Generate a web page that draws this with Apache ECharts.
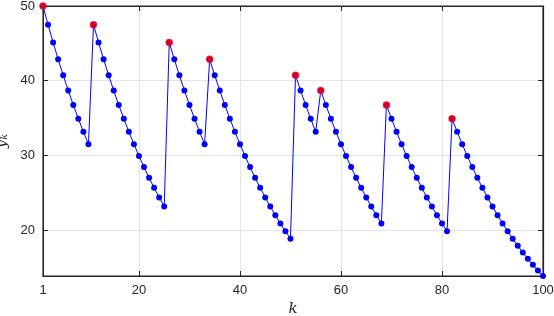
<!DOCTYPE html>
<html>
<head>
<meta charset="utf-8">
<script src="https://cdn.jsdelivr.net/npm/echarts@6/dist/echarts.min.js"></script>
<style>html,body{margin:0;padding:0;background:#fff}#c{width:554px;height:316px}</style>
</head>
<body>
<div id="c"></div>
<script>
// y_k values for k = 1..100
var yk = [
  50.00, 47.50, 45.12, 42.87, 40.73, 38.69, 36.76, 34.92, 33.17, 31.51,
  47.50, 45.12, 42.87, 40.73, 38.69, 36.76, 34.92, 33.17, 31.51, 29.94,
  28.44, 27.02, 25.67, 24.39, 23.17, 45.12, 42.87, 40.73, 38.69, 36.76,
  34.92, 33.17, 31.51, 42.87, 40.73, 38.69, 36.76, 34.92, 33.17, 31.51,
  29.94, 28.44, 27.02, 25.67, 24.39, 23.17, 22.01, 20.91, 19.86, 18.87,
  40.73, 38.69, 36.76, 34.92, 33.17, 38.69, 36.76, 34.92, 33.17, 31.51,
  29.94, 28.44, 27.02, 25.67, 24.39, 23.17, 22.01, 20.91, 36.76, 34.92,
  33.17, 31.51, 29.94, 28.44, 27.02, 25.67, 24.39, 23.17, 22.01, 20.91,
  19.86, 34.92, 33.17, 31.51, 29.94, 28.44, 27.02, 25.67, 24.39, 23.17,
  22.01, 20.91, 19.86, 18.87, 17.92, 17.03, 16.18, 15.37, 14.60, 13.87
];
// k indices of highlighted (red) points
var peakK = [1, 11, 26, 34, 51, 56, 69, 82];
var xTicks = [1, 20, 40, 60, 80, 100];
var yTicks = [20, 30, 40, 50];

var lineData = yk.map(function (v, i) { return [i + 1, v]; });
var peakData = peakK.map(function (k) { return [k, yk[k - 1]]; });

var axisCol = '#262626';
var font = 'Liberation Sans, Arial, Helvetica, sans-serif';
var yMin = Math.min.apply(null, yk);
var yMax = 50, xMin = 1, xMax = 100;

function frameAxis(isX, pos) {
  return {
    type: 'value', min: isX ? xMin : yMin, max: isX ? xMax : yMax, position: pos,
    axisLine: { show: true, onZero: false, lineStyle: { color: axisCol, width: 1.2 } },
    axisTick: { show: true, inside: true, length: 5, lineStyle: { color: axisCol } },
    axisLabel: { show: false },
    splitLine: { show: false }
  };
}

var chart = echarts.init(document.getElementById('c'), null, { renderer: 'canvas' });
chart.setOption({
  animation: false,
  grid: { left: 43, top: 6, width: 500, height: 270, outerBoundsMode: 'none',
          show: true, borderColor: axisCol, borderWidth: 1.2 },
  xAxis: [{
    type: 'value', min: xMin, max: xMax,
    axisLine: { show: true, onZero: false, lineStyle: { color: axisCol, width: 1 } },
    axisTick: { show: true, inside: true, length: 5, customValues: xTicks, lineStyle: { color: axisCol } },
    axisLabel: { show: true, customValues: xTicks, color: axisCol, fontFamily: font, fontSize: 13, margin: 8 },
    splitLine: { show: true, lineStyle: { color: '#e5e5e5', width: 1 } },
    name: 'k', nameLocation: 'middle', nameGap: 26,
    nameTextStyle: { fontFamily: 'DejaVu Serif, Liberation Serif, serif', fontStyle: 'italic', fontSize: 15, color: axisCol }
  }, frameAxis(true, 'top')],
  yAxis: [{
    type: 'value', min: yMin, max: yMax,
    axisLine: { show: true, onZero: false, lineStyle: { color: axisCol, width: 1 } },
    axisTick: { show: true, inside: true, length: 5, customValues: yTicks, lineStyle: { color: axisCol } },
    axisLabel: { show: true, customValues: yTicks, color: axisCol, fontFamily: font, fontSize: 13, margin: 8 },
    splitLine: { show: true, lineStyle: { color: '#e5e5e5', width: 1 } },
    name: '{y|y}{s|k}', nameLocation: 'middle', nameGap: 25, nameRotate: 90,
    nameTextStyle: {
      rich: {
        y: { fontFamily: 'DejaVu Serif, Liberation Serif, serif', fontStyle: 'italic', fontSize: 15, color: axisCol },
        s: { fontFamily: 'DejaVu Serif, Liberation Serif, serif', fontStyle: 'italic', fontSize: 10, color: axisCol, padding: [6, 0, 0, 0] }
      }
    }
  }, frameAxis(false, 'right')],
  series: [
    {
      type: 'line', data: lineData, xAxisIndex: 0, yAxisIndex: 0,
      symbol: 'circle', symbolSize: 6, showSymbol: true,
      lineStyle: { color: '#0000ff', width: 1 },
      itemStyle: { color: '#0000ff' }, z: 2
    },
    {
      type: 'scatter', data: peakData, xAxisIndex: 0, yAxisIndex: 0,
      symbol: 'circle', symbolSize: 7.5,
      itemStyle: { color: '#ff0000' }, z: 3
    }
  ]
});
</script>
</body>
</html>
